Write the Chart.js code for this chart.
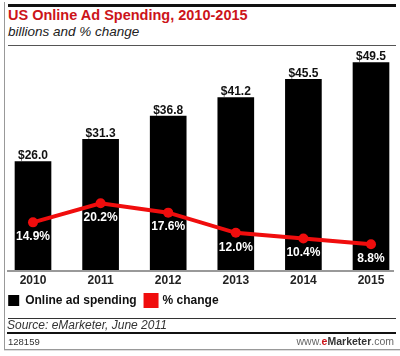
<!DOCTYPE html>
<html>
<head>
<meta charset="utf-8">
<script src="https://cdn.jsdelivr.net/npm/chart.js@4.4.0/dist/chart.umd.min.js"></script>
<style>
  html, body { margin:0; padding:0; background:#fff; width:400px; height:356px; overflow:hidden; position:relative; font-family:"Liberation Sans", Arial, sans-serif; }
  .abs { position:absolute; }
  #title { left:8px; top:7px; font-size:14.5px; font-weight:bold; color:#cc1419; white-space:nowrap; }
  #subtitle { left:8px; top:24px; font-size:13.5px; font-style:italic; color:#222; white-space:nowrap; }
  #source { left:7px; top:318px; font-size:12px; font-style:italic; color:#333; white-space:nowrap; }
  #id { left:8px; top:336px; font-size:9.5px; color:#333; }
  #brand { right:6px; top:335px; font-size:10.5px; color:#666; white-space:nowrap; }
  #brand b { color:#333; }
  #brand .e { color:#cc1419; font-weight:bold; }
  #wrap { position:absolute; left:-10px; top:0; width:420px; height:320px; }
</style>
</head>
<body>
<div class="abs" style="left:4px;top:2px;width:1px;height:348px;background:#999;"></div>
<div class="abs" style="left:4px;top:349px;width:396px;height:1px;background:#999;"></div>
<div class="abs" style="left:4px;top:350px;width:396px;height:1px;background:#ddd;"></div>
<div class="abs" style="left:8px;top:4px;width:388px;height:3px;background:#111;"></div>
<div class="abs" id="title">US Online Ad Spending, 2010-2015</div>
<div class="abs" id="subtitle">billions and % change</div>
<div class="abs" style="left:8px;top:45px;width:388px;height:1px;background:#555;"></div>
<div id="wrap"><canvas id="c"></canvas></div>
<div class="abs" style="left:7px;top:270px;width:387px;height:1.5px;background:#999;"></div>
<div class="abs" style="left:8px;top:318px;width:388px;height:1px;background:#333;"></div>
<div class="abs" id="source">Source: eMarketer, June 2011</div>
<div class="abs" style="left:7px;top:332px;width:389px;height:2px;background:#111;"></div>
<div class="abs" id="id">128159</div>
<div class="abs" id="brand">www.<span class="e">e</span><b>Marketer</b>.com</div>
<script>
const categories = ["2010", "2011", "2012", "2013", "2014", "2015"];
const spending = [26.0, 31.3, 36.8, 41.2, 45.5, 49.5];
const pctChange = [14.9, 20.2, 17.6, 12.0, 10.4, 8.8];
const spendingLabels = ["$26.0", "$31.3", "$36.8", "$41.2", "$45.5", "$49.5"];
const pctLabels = ["14.9%", "20.2%", "17.6%", "12.0%", "10.4%", "8.8%"];

const labelPlugin = {
  id: 'valueLabels',
  afterDatasetsDraw(chart) {
    const ctx = chart.ctx;
    ctx.save();
    ctx.textAlign = 'center';
    const barMeta = chart.getDatasetMeta(0);
    ctx.font = 'bold 12px "Liberation Sans", Arial, sans-serif';
    ctx.fillStyle = '#111';
    ctx.textBaseline = 'alphabetic';
    barMeta.data.forEach((el, i) => {
      ctx.fillText(spendingLabels[i], el.x, el.y - 2.5);
    });
    const lineMeta = chart.getDatasetMeta(1);
    ctx.fillStyle = '#fff';
    ctx.textBaseline = 'middle';
    lineMeta.data.forEach((el, i) => {
      ctx.fillText(pctLabels[i], el.x, el.y + 14.5);
    });
    ctx.restore();
  }
};

new Chart(document.getElementById('c'), {
  data: {
    labels: categories,
    datasets: [
      {
        type: 'bar',
        label: 'Online ad spending',
        data: spending,
        backgroundColor: '#000',
        borderWidth: 0,
        barThickness: 36,
        yAxisID: 'y',
        order: 2
      },
      {
        type: 'line',
        label: '% change',
        data: pctChange,
        borderColor: '#f00d0d',
        backgroundColor: '#f00d0d',
        borderWidth: 4,
        pointRadius: 5,
        pointBackgroundColor: '#f00d0d',
        pointBorderWidth: 0,
        tension: 0,
        yAxisID: 'y2',
        order: 1
      }
    ]
  },
  options: {
    responsive: true,
    maintainAspectRatio: false,
    animation: false,
    devicePixelRatio: 1,
    layout: { padding: { top: 55, left: 9.2, right: 5.2, bottom: 3.5 } },
    plugins: {
      tooltip: { enabled: false },
      legend: {
        display: true,
        position: 'bottom',
        align: 'start',
        labels: {
          boxWidth: 11,
          boxHeight: 11,
          padding: 9,
          color: '#111',
          sort: (a, b) => a.datasetIndex - b.datasetIndex,
          font: { family: '"Liberation Sans", Arial, sans-serif', size: 12, weight: 'bold' }
        }
      }
    },
    scales: {
      x: {
        offset: true,
        grid: { display: false, drawTicks: false },
        border: { display: false },
        afterFit: (scale) => { scale.height = 14.5; },
        ticks: {
          color: '#222',
          padding: 5.5,
          font: { family: '"Liberation Sans", Arial, sans-serif', size: 12, weight: 'bold', lineHeight: 0.75 }
        }
      },
      y: { display: false, min: 0, max: 51.3 },
      y2: { display: false, min: 1.39, max: 61.4 }
    }
  },
  plugins: [labelPlugin]
});
</script>
</body>
</html>
